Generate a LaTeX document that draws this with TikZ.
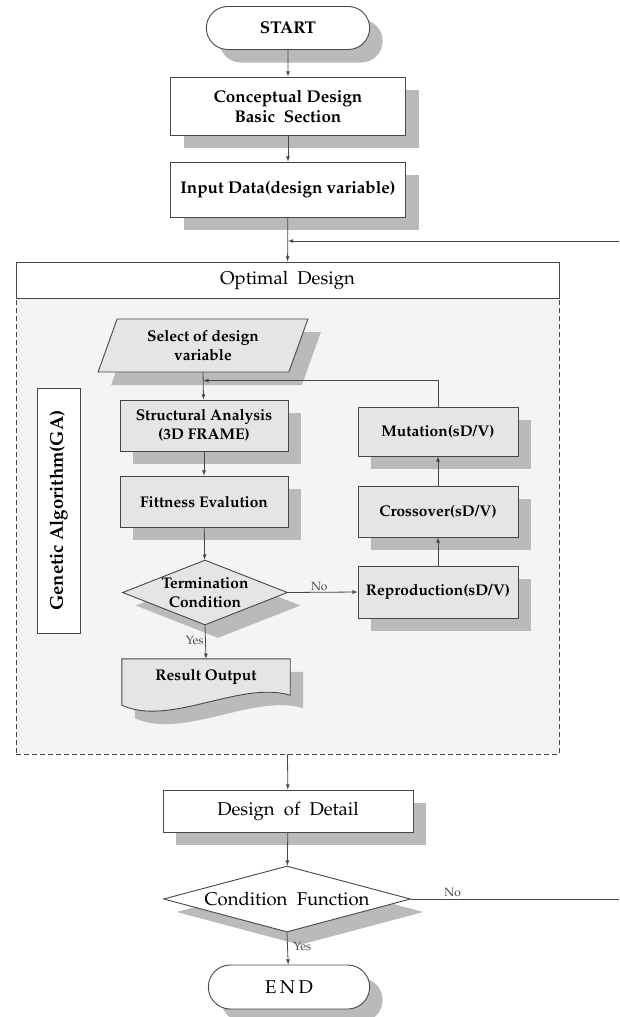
\documentclass[tikz,border=0pt]{standalone}
\usepackage[T1]{fontenc}
\usepackage{mathpazo}
\usepackage{tikz}
\usetikzlibrary{positioning,calc,arrows,shapes,shadows}

\definecolor{linegray}{gray}{0.28}
\definecolor{boxgray}{gray}{0.9}
\definecolor{regiongray}{gray}{0.955}
\definecolor{shadegray}{gray}{0.73}

\tikzset{
  every node/.style={font=\fontsize{18.5}{21}\selectfont},
  boldtext/.style={font=\fontsize{17}{20}\selectfont\bfseries},
  shadowed/.style={drop shadow={shadow xshift=13pt,shadow yshift=-13pt,fill=shadegray,opacity=1}},
  outbox/.style={rectangle,draw=linegray,line width=0.9pt,fill=white,align=center},
  gabox/.style={rectangle,draw=linegray,line width=0.9pt,fill=boxgray,align=center,
    minimum width=168,font=\fontsize{15.5}{18.5}\selectfont\bfseries},
  terminal/.style={rounded rectangle,draw=linegray,line width=0.9pt,fill=white,
    minimum width=170,minimum height=43},
  decision/.style={diamond,draw=linegray,line width=0.9pt,inner sep=0pt,aspect=3.7},
  flow/.style={-latex,linegray,line width=0.8pt},
  tag/.style={font=\fontsize{12}{14}\selectfont,inner sep=1.5pt}
}

\begin{document}
\begin{tikzpicture}[x=1pt,y=-1pt]
\useasboundingbox (0,0) rectangle (619,1017);

%main column top
\node[terminal,shadowed,boldtext] (start) at (288,28) {START};
\node[outbox,shadowed,minimum width=235,minimum height=58,boldtext] (concept) at (288,106) {Conceptual Design\\Basic\ \ Section};
\node[outbox,shadowed,minimum width=235,minimum height=55,boldtext] (input) at (288,189.5) {Input Data(design variable)};

%optimal design block
\node[rectangle,draw=linegray,line width=0.8pt,dash pattern=on 5pt off 3pt,fill=regiongray,
  minimum width=543,minimum height=456] (region) at (287.5,526) {};
\node[outbox,minimum width=543,minimum height=36] (optimal) at (287.5,280) {Optimal\ \ Design};
\node[outbox,rotate=90,minimum width=245,minimum height=43,font=\fontsize{18.5}{21}\selectfont\bfseries] (galabel) at (58.5,510.5) {Genetic Algorithm(GA)};

%GA loop
\node[trapezium,trapezium left angle=67.5,trapezium right angle=112.5,trapezium stretches=true,
  draw=linegray,line width=0.9pt,fill=boxgray,shadowed,align=center,minimum width=210,minimum height=53,
  inner sep=0pt,font=\fontsize{15.5}{18.5}\selectfont\bfseries] (select) at (203,345.5) {Select of design\\variable};
\node[gabox,shadowed,minimum height=51] (struct) at (204,425.5) {Structural Analysis\\(3D FRAME)};
\node[gabox,shadowed,minimum height=51] (fitness) at (204,501.5) {Fittness Evalution};
\node[decision,fill=boxgray,shadowed,minimum width=165,minimum height=65,
  label={[align=center,font=\fontsize{15.5}{18.5}\selectfont\bfseries]center:Termination\\Condition}] (term) at (205,592.5) {};
\node[minimum width=168,minimum height=46,inner sep=0pt] (result) at (206,682) {};
\draw[line width=0.9pt,draw=linegray,fill=boxgray,shadowed] (result.north west) -- (result.north east)
  -- ([yshift=10pt]result.south east) .. controls +(-50,-15) and +(48,22) .. (result.south west) -- cycle;
\node[font=\fontsize{15.5}{18.5}\selectfont\bfseries] (resulttext) at (206,677) {Result Output};
\node[gabox,shadowed,minimum width=160,minimum height=49] (mutation) at (438,431.5) {Mutation(sD/V)};
\node[gabox,shadowed,minimum width=160,minimum height=51] (crossover) at (438,511.5) {Crossover(sD/V)};
\node[gabox,shadowed,minimum width=160,minimum height=52] (reproduction) at (438,592) {Reproduction(sD/V)};

%main column bottom
\node[outbox,shadowed,minimum width=250,minimum height=42] (detail) at (288,811) {Design\ \ of\ \ Detail};
\node[decision,fill=white,shadowed,minimum width=247,minimum height=66] (cond) at (287,899) {Condition\ \ Function};
\node[terminal,shadowed,minimum width=168,minimum height=44] (finish) at (289,987) {E\kern3.5pt N\kern3.5pt D};

%free ends at the right edge
\coordinate (backin) at (619,241);
\coordinate (backout) at (619,899);

%connectors
\draw[flow] (start) -- (concept);
\draw[flow] (concept) -- (input);
\draw[flow] (input) -- (optimal);
\draw[flow] (backin) -- (backin -| input.south);
\draw[flow] (select.south) -- (struct);
\draw[flow] (mutation.north) |- ($(select.south)!0.3!(struct.north)$);
\draw[flow] (struct) -- (fitness);
\draw[flow] (fitness) -- (term);
\draw[flow] (term.east) -- node[tag,above,pos=0.45] {No} (reproduction.west);
\draw[flow] (term.south) -- node[tag,left,pos=0.45] {Yes} (result.north);
\draw[flow] (reproduction) -- (crossover);
\draw[flow] (crossover) -- (mutation);
\draw[flow] (region.south) -- (detail);
\draw[flow] (detail) -- (cond);
\draw[linegray,line width=0.8pt] (cond.east) -- node[tag,above,pos=0.2] {No} (backout);
\draw[flow] (cond.south) -- node[tag,right=4pt,pos=0.45] {Yes} (finish);
\end{tikzpicture}
\end{document}
